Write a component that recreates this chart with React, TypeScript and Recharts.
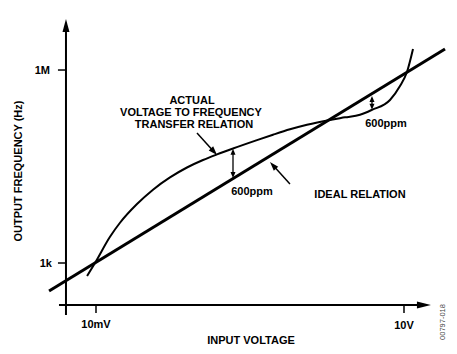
import { ComposedChart, Line, XAxis, YAxis, ReferenceLine } from 'recharts';

// actual V-to-F transfer curve (volts -> Hz)
const actualVolts = [0.00818, 0.00978, 0.01369, 0.01713, 0.02508, 0.03591, 0.05257, 0.07695, 0.1102, 0.1509, 0.216, 0.3699, 0.5297, 0.7753, 1.135, 1.902, 2.662, 3.727, 4.878, 7.304, 9.141, 10.69, 12.24];
const actualHz = [628, 1000, 2559, 4224, 8249, 13810, 21410, 30520, 39920, 48770, 60240, 81380, 98720, 119800, 141200, 167700, 183700, 201300, 240700, 341900, 564200, 931400, 2121000];

// ideal relation, straight line on log-log axes
const idealVolts = [0.00349, 25.1];
const idealHz = [367, 2120000];

// axis extents (where the drawn axes sit / end)
const yAxisVolt = 0.0051;
const xAxisHz = 222;
const xAxisVolts = [0.00436, 18.3];
const yAxisHz = [155, 6200000];
const tickVolts = [0.01, 10];
const tickVoltLabels = ['10mV', '10V'];
const tickHz = [1000, 1000000];
const tickHzLabels = ['1k', '1M'];
const tickInnerVolt = 0.00426;
const tickLowHz = 167;

// 600ppm gaps and pointer arrows
const gapVolts = [0.216, 4.878];
const gapHz = [[59500, 21000], [394000, 241000]];
const actualPointer = [{ x: 0.0963, y: 104900 }, { x: 0.1509, y: 47700 }];
const idealPointer = [{ x: 0.775, y: 16900 }, { x: 0.495, y: 37150 }];

const actualData = actualVolts.map((v, i) => ({ v, hz: actualHz[i] }));
const idealData = idealVolts.map((v, i) => ({ v, hz: idealHz[i] }));

const font = '"Liberation Sans", Arial, sans-serif';

function arrowLine(head: number, width: number, sw: number, both = false) {
  return (p: any) => {
    const { x1, y1, x2, y2 } = p;
    const dx = x2 - x1;
    const dy = y2 - y1;
    const len = Math.hypot(dx, dy) || 1;
    const ux = dx / len;
    const uy = dy / len;
    const tri = (tx: number, ty: number, dx2: number, dy2: number) => {
      const bx = tx - dx2 * head;
      const by = ty - dy2 * head;
      const px = -dy2 * width / 2;
      const py = dx2 * width / 2;
      return `${tx},${ty} ${bx + px},${by + py} ${bx - px},${by - py}`;
    };
    const sx = both ? x1 + ux * head * 0.8 : x1;
    const sy = both ? y1 + uy * head * 0.8 : y1;
    return (
      <g>
        <line x1={sx} y1={sy} x2={x2 - ux * head * 0.8} y2={y2 - uy * head * 0.8} stroke="#000" strokeWidth={sw} />
        <polygon points={tri(x2, y2, ux, uy)} fill="#000" />
        {both && <polygon points={tri(x1, y1, -ux, -uy)} fill="#000" />}
      </g>
    );
  };
}

const plainLine = (sw: number) => (p: any) => (
  <line x1={p.x1} y1={p.y1} x2={p.x2} y2={p.y2} stroke="#000" strokeWidth={sw} />
);

const txt = { fontFamily: font, fontWeight: 700, fontSize: 11, fill: '#000' } as const;

export default function App() {
  return (
    <div style={{ position: 'absolute', left: 0, top: 0, width: 457, height: 354, background: '#fff' }}>
      <ComposedChart width={457} height={354} margin={{ top: 15, right: 5, bottom: 29, left: 40 }}>
        <XAxis dataKey="v" type="number" scale="log" domain={[0.002848, 29.35]} allowDataOverflow hide />
        <YAxis dataKey="hz" type="number" scale="log" domain={[108.7, 7167000]} allowDataOverflow hide />

        {/* axes */}
        <ReferenceLine
          segment={[{ x: xAxisVolts[0], y: xAxisHz }, { x: xAxisVolts[1], y: xAxisHz }]}
          shape={arrowLine(14, 7, 2)}
          ifOverflow="visible"
        />
        <ReferenceLine
          segment={[{ x: yAxisVolt, y: yAxisHz[0] }, { x: yAxisVolt, y: yAxisHz[1] }]}
          shape={arrowLine(13, 7, 2)}
          ifOverflow="visible"
        />
        {tickHz.map((h) => (
          <ReferenceLine key={h} segment={[{ x: tickInnerVolt, y: h }, { x: yAxisVolt, y: h }]} shape={plainLine(1.5)} ifOverflow="visible" />
        ))}
        {tickVolts.map((v) => (
          <ReferenceLine key={v} segment={[{ x: v, y: xAxisHz }, { x: v, y: tickLowHz }]} shape={plainLine(1.5)} ifOverflow="visible" />
        ))}

        <Line data={idealData} dataKey="hz" type="linear" stroke="#000" strokeWidth={3} dot={false} isAnimationActive={false} />
        <Line data={actualData} dataKey="hz" type="monotone" stroke="#000" strokeWidth={2} dot={false} isAnimationActive={false} />

        {/* annotations */}
        {gapVolts.map((v, i) => (
          <ReferenceLine key={v} segment={[{ x: v, y: gapHz[i][0] }, { x: v, y: gapHz[i][1] }]} shape={arrowLine(6, 5, 1.3, true)} ifOverflow="visible" />
        ))}
        <ReferenceLine segment={actualPointer} shape={arrowLine(9, 6, 1.5)} ifOverflow="visible" />
        <ReferenceLine segment={idealPointer} shape={arrowLine(9, 6, 1.5)} ifOverflow="visible" />

        <text x={50} y={74} textAnchor="end" {...txt}>{tickHzLabels[1]}</text>
        <text x={52} y={267} textAnchor="end" {...txt}>{tickHzLabels[0]}</text>
        <text x={96} y={328} textAnchor="middle" {...txt}>{tickVoltLabels[0]}</text>
        <text x={404} y={329} textAnchor="middle" {...txt}>{tickVoltLabels[1]}</text>

        <text x={192} y={104} textAnchor="middle" {...txt}>ACTUAL</text>
        <text x={191} y={116} textAnchor="middle" {...txt}>VOLTAGE TO FREQUENCY</text>
        <text x={194} y={128} textAnchor="middle" {...txt}>TRANSFER RELATION</text>
        <text x={252} y={195} textAnchor="middle" {...txt}>600ppm</text>
        <text x={386} y={127} textAnchor="middle" {...txt}>600ppm</text>
        <text x={360} y={198} textAnchor="middle" {...txt}>IDEAL RELATION</text>

        <text x={251} y={344} textAnchor="middle" {...txt}>INPUT VOLTAGE</text>
        <text transform="translate(22,171) rotate(-90)" textAnchor="middle" {...txt}>OUTPUT FREQUENCY (Hz)</text>
        <text transform="translate(445,322) rotate(-90)" textAnchor="middle" fontFamily={font} fontSize={7.5} fill="#444">00797-018</text>
      </ComposedChart>
    </div>
  );
}
